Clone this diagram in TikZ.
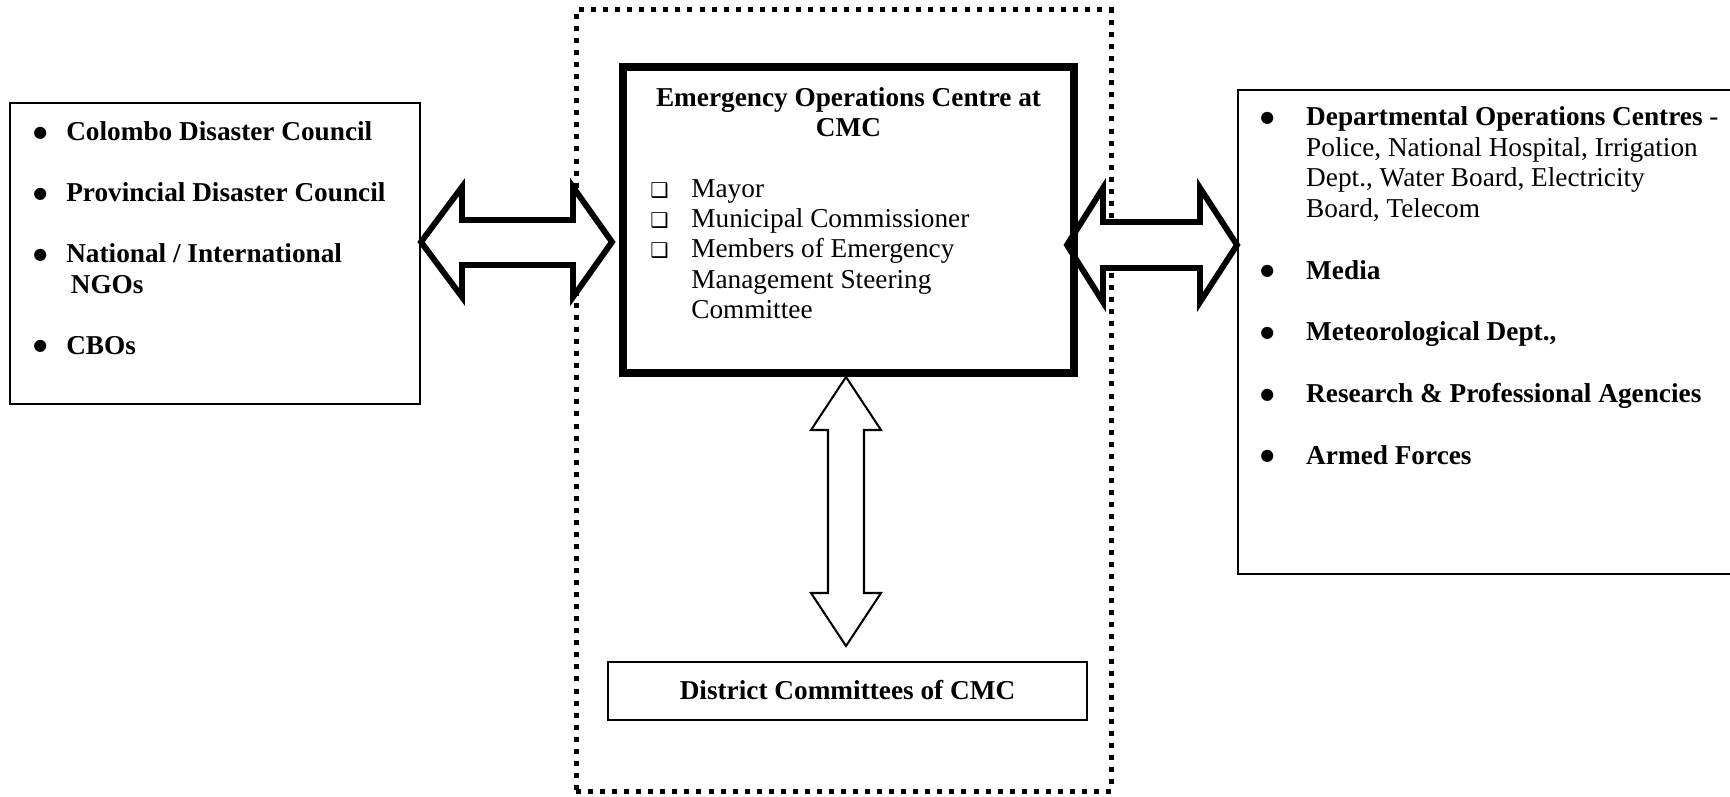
\documentclass[tikz,border=0pt]{standalone}
\usepackage{fontspec}
\setmainfont{Liberation Serif}
\newfontfamily\dejavu{DejaVu Sans}
\usepackage{tikz}
\usetikzlibrary{shapes,arrows,positioning,fit,calc}
\newcommand{\sqbul}{{\dejavu\fontsize{9}{9}\selectfont ❑}}
\newcommand{\dotbul}{\raisebox{1.6pt}{\dejavu\fontsize{7}{7}\selectfont ●}}
\tikzstyle{listbox}=[rectangle,draw,line width=1pt,inner sep=0pt]
\tikzstyle{eocbox}=[rectangle,draw,line width=3.5pt,inner sep=0pt]
\tikzstyle{framebox}=[rectangle,draw,line width=2.2pt,dash pattern=on 2.2pt off 3.1pt,inner sep=0pt]
\tikzstyle{txt}=[inner sep=0pt,font=\fontsize{12}{13.4}\selectfont]
\tikzstyle{bigarr}=[draw,fill=white,line width=2.6pt,line join=miter]
\tikzstyle{thinarr}=[draw,fill=white,line width=0.9pt,line join=miter]

\begin{document}
\begin{tikzpicture}[x=0.44pt,y=-0.44pt]
\useasboundingbox (0,0) rectangle (1730,797);
\node[framebox, fit={(576,10) (1111,791)}] (frame) {};
% block arrows
\coordinate (la) at (421,242);
\coordinate (lb) at (612,242);
\coordinate (ra) at (1067,245);
\coordinate (rb) at (1237,245);
\coordinate (ta) at (846,377);
\coordinate (tb) at (846,646);
\draw[bigarr] (la) -- ++(41,-55) -- ++(0,33) -- ++(111,0) -- ++(0,-33) -- (lb) -- ++(-39,55) -- ++(0,-32) -- ++(-111,0) -- ++(0,32) -- cycle;
\draw[bigarr] (ra) -- ++(36,-57) -- ++(0,34) -- ++(97,0) -- ++(0,-34) -- (rb) -- ++(-37,57) -- ++(0,-34) -- ++(-97,0) -- ++(0,34) -- cycle;
\draw[thinarr] (ta) -- ++(35,53) -- ++(-17,0) -- ++(0,163) -- ++(17,0) -- (tb) -- ++(-35,-53) -- ++(17,0) -- ++(0,-163) -- ++(-17,0) -- cycle;
% boxes
\node[listbox, fit={(10,103) (420,404)}] (council) {};
\node[listbox, fit={(1238,90) (1731,574)}] (agencies) {};
\node[eocbox, fit={(623,67) (1074,373)}] (eoc) {};
\node[listbox, fit={(608,662) (1087,720)}] (dist) {};
% texts
\node[txt, anchor=base west] (counciltxt) at ($(council.north west)+(24,39)$) {\begin{tabular}[t]{@{}p{14.5pt}@{}l@{}}
\dotbul & \textbf{Colombo Disaster Council}\\[13.4pt]
\dotbul & \textbf{Provincial Disaster Council}\\[13.4pt]
\dotbul & \textbf{National / International}\\
 & \hspace{2pt}\textbf{NGOs}\\[13.4pt]
\dotbul & \textbf{CBOs}
\end{tabular}};
\node[txt, anchor=base west] (agencytxt) at ($(agencies.north west)+(23,37)$) {\begin{tabular}[t]{@{}p{20.2pt}@{}l@{}}
\dotbul & \textbf{Departmental Operations Centres} -\\
 & Police, National Hospital, Irrigation\\
 & Dept., Water Board, Electricity\\
 & Board, Telecom\\[13.8pt]
\dotbul & \textbf{Media}\\[13.8pt]
\dotbul & \textbf{Meteorological Dept.,}\\[13.8pt]
\dotbul & \textbf{Research \& Professional Agencies}\\[13.8pt]
\dotbul & \textbf{Armed Forces}
\end{tabular}};
\node[txt, anchor=base] (eoctitle) at ($(eoc.north)+(0,43)$) {\begin{tabular}[t]{@{}c@{}}
\textbf{Emergency Operations Centre at}\\
\textbf{CMC}
\end{tabular}};
\node[txt, anchor=base west] (members) at ($(eoc.north west)+(31,134)$) {\begin{tabular}[t]{@{}p{18pt}@{}l@{}}
\sqbul & Mayor\\
\sqbul & Municipal Commissioner\\
\sqbul & Members of Emergency\\
 & Management Steering\\
 & Committee
\end{tabular}};
\node[txt, anchor=base] (disttxt) at ($(dist.south)+(0,-22)$) {\textbf{District Committees of CMC}};
\end{tikzpicture}
\end{document}
